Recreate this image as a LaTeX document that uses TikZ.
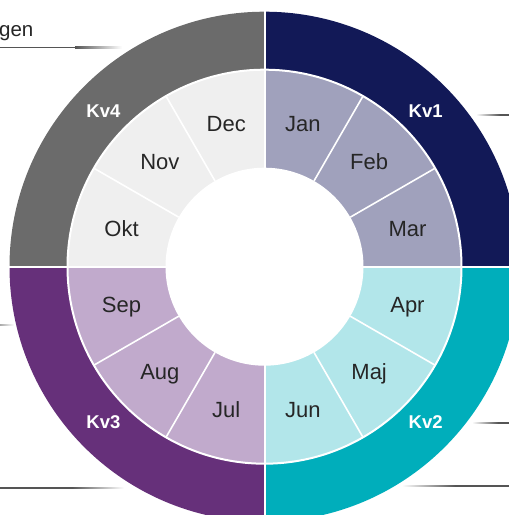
\documentclass[tikz,border=0pt]{standalone}
\usepackage{fontspec}
\setmainfont{Liberation Sans}
\definecolor{kvone}{RGB}{18,25,87}
\definecolor{qone}{RGB}{160,161,188}
\definecolor{kvtwo}{RGB}{0,174,187}
\definecolor{qtwo}{RGB}{178,230,234}
\definecolor{kvthree}{RGB}{102,48,122}
\definecolor{qthree}{RGB}{193,170,204}
\definecolor{kvfour}{RGB}{107,107,107}
\definecolor{qfour}{RGB}{239,239,239}
\definecolor{linegray}{RGB}{85,85,85}
\definecolor{txt}{RGB}{38,38,38}
\tikzset{
  mon/.style={font=\fontsize{22}{22}\selectfont, text=txt, inner sep=0pt, text height=15.7pt, text depth=0pt, anchor=center},
  kv/.style={font=\fontsize{18.5}{18.5}\selectfont\bfseries, text=white, inner sep=0pt, text height=13.2pt, text depth=0pt, anchor=center},
  sep/.style={draw=white, line width=1.6pt},
  qsep/.style={draw=white, line width=2pt},
}
\begin{document}
\begin{tikzpicture}[x=1pt,y=1pt]
\useasboundingbox (0,0) rectangle (509,515);
\clip (0,0) rectangle (509,515);
% legend lines
\fill[linegray] (0,466.7) rectangle (75,468.3);
\shade[left color=linegray, right color=white] (75,466.7) rectangle (122,468.3);
\node[font=\fontsize{20.5}{20.5}\selectfont, text=txt, anchor=base west, inner sep=0pt] (gen) at (-1,478) {gen};
\shade[left color=white, right color=linegray] (476,399.2) rectangle (500,400.8);
\fill[linegray] (500,399.2) rectangle (509,400.8);
\shade[left color=white, right color=linegray] (472,91.2) rectangle (498,92.8);
\fill[linegray] (498,91.2) rectangle (509,92.8);
\shade[left color=white, right color=linegray] (402,28.2) rectangle (455,29.8);
\fill[linegray] (455,28.2) rectangle (509,29.8);
\fill[linegray] (0,26.2) rectangle (72,27.8);
\shade[left color=linegray, right color=white] (72,26.2) rectangle (124,27.8);
\shade[left color=linegray!50, right color=white] (0,189.2) rectangle (14,190.8);
\coordinate (C) at (264.5,248.3);
\begin{scope}[shift={(C)}]
  % outer quarters
  \fill[kvone] (0,0) -- (0:255) arc[start angle=0, end angle=90, radius=255] -- cycle;
  \fill[kvfour] (0,0) -- (90:255) arc[start angle=90, end angle=180, radius=255] -- cycle;
  \fill[kvthree] (0,0) -- (180:255) arc[start angle=180, end angle=270, radius=255] -- cycle;
  \fill[kvtwo] (0,0) -- (270:255) arc[start angle=270, end angle=360, radius=255] -- cycle;
  % month quarters
  \fill[qone] (0,0) -- (0:197) arc[start angle=0, end angle=90, radius=197] -- cycle;
  \fill[qfour] (0,0) -- (90:197) arc[start angle=90, end angle=180, radius=197] -- cycle;
  \fill[qthree] (0,0) -- (180:197) arc[start angle=180, end angle=270, radius=197] -- cycle;
  \fill[qtwo] (0,0) -- (270:197) arc[start angle=270, end angle=360, radius=197] -- cycle;
  % separators
  \draw[qsep] (0,0) circle[radius=197];
  \foreach \a in {30,60,120,150,210,240,300,330} {
    \draw[sep] (\a:99) -- (\a:197);
  }
  \foreach \a in {0,90,180,270} {
    \draw[qsep] (0,0) -- (\a:256);
  }
  \fill[white] (0,0) circle[radius=99];
  % labels
  \node[mon] (jan) at (75:148) {Jan};
  \node[mon] (feb) at (45:148) {Feb};
  \node[mon] (mar) at (15:148) {Mar};
  \node[mon] (apr) at (-15:148) {Apr};
  \node[mon] (maj) at (-45:148) {Maj};
  \node[mon] (jun) at (-75:148) {Jun};
  \node[mon] (jul) at (-105:148) {Jul};
  \node[mon] (aug) at (-135:148) {Aug};
  \node[mon] (sep) at (-165:148) {Sep};
  \node[mon] (okt) at (165:148) {Okt};
  \node[mon] (nov) at (135:148) {Nov};
  \node[mon] (dec) at (105:148) {Dec};
  \node[kv] (kv1) at (44:224) {Kv1};
  \node[kv] (kv2) at (-44:224) {Kv2};
  \node[kv] (kv3) at (-136:224) {Kv3};
  \node[kv] (kv4) at (136:224) {Kv4};
\end{scope}
\end{tikzpicture}
\end{document}
